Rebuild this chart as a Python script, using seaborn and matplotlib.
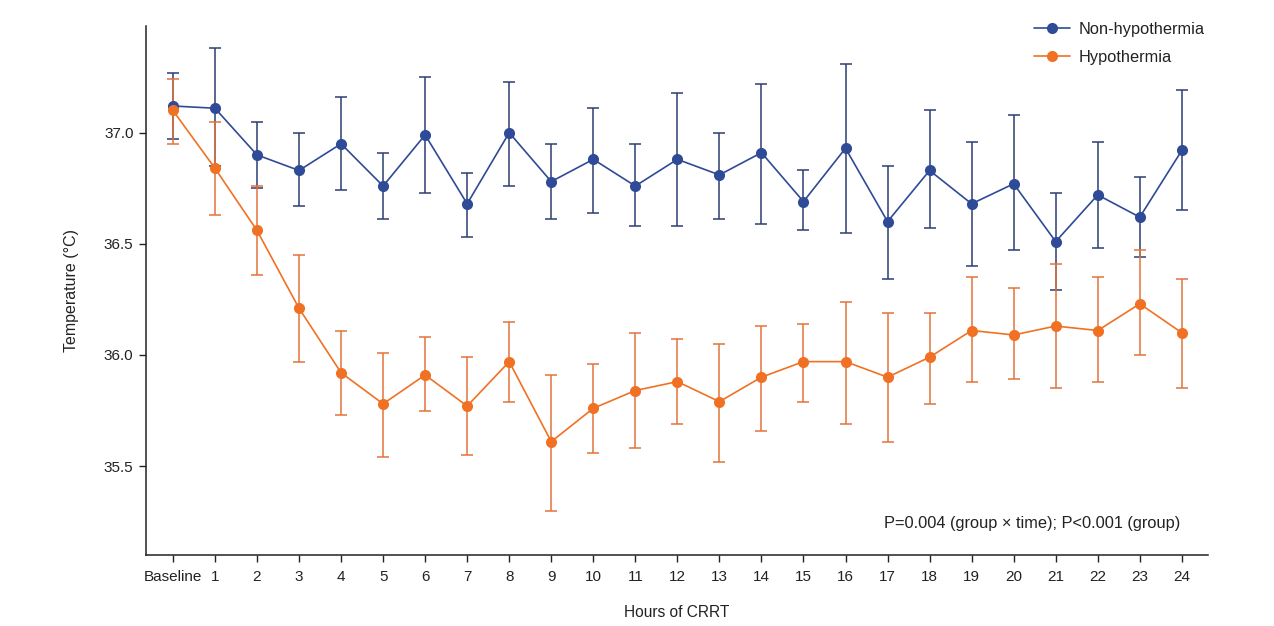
import matplotlib
matplotlib.use("Agg")
import matplotlib.pyplot as plt
import seaborn as sns
import pandas as pd

hours = ["Baseline"] + [str(h) for h in range(1, 25)]

# Non-hypothermia: mean, upper and lower end of error bar
non_mean = [37.12, 37.11, 36.90, 36.83, 36.95, 36.76, 36.99, 36.68, 37.00, 36.78,
            36.88, 36.76, 36.88, 36.81, 36.91, 36.69, 36.93, 36.60, 36.83, 36.68,
            36.77, 36.51, 36.72, 36.62, 36.92]
non_upper = [37.27, 37.38, 37.05, 37.00, 37.16, 36.91, 37.25, 36.82, 37.23, 36.95,
             37.11, 36.95, 37.18, 37.00, 37.22, 36.83, 37.31, 36.85, 37.10, 36.96,
             37.08, 36.73, 36.96, 36.80, 37.19]
non_lower = [36.97, 36.85, 36.75, 36.67, 36.74, 36.61, 36.73, 36.53, 36.76, 36.61,
             36.64, 36.58, 36.58, 36.61, 36.59, 36.56, 36.55, 36.34, 36.57, 36.40,
             36.47, 36.29, 36.48, 36.44, 36.65]

# Hypothermia
hypo_mean = [37.10, 36.84, 36.56, 36.21, 35.92, 35.78, 35.91, 35.77, 35.97, 35.61,
             35.76, 35.84, 35.88, 35.79, 35.90, 35.97, 35.97, 35.90, 35.99, 36.11,
             36.09, 36.13, 36.11, 36.23, 36.10]
hypo_upper = [37.24, 37.05, 36.76, 36.45, 36.11, 36.01, 36.08, 35.99, 36.15, 35.91,
              35.96, 36.10, 36.07, 36.05, 36.13, 36.14, 36.24, 36.19, 36.19, 36.35,
              36.30, 36.41, 36.35, 36.47, 36.34]
hypo_lower = [36.95, 36.63, 36.36, 35.97, 35.73, 35.54, 35.75, 35.55, 35.79, 35.30,
              35.56, 35.58, 35.69, 35.52, 35.66, 35.79, 35.69, 35.61, 35.78, 35.88,
              35.89, 35.85, 35.88, 36.00, 35.85]

groups = ["Non-hypothermia", "Hypothermia"]
line_colors = {"Non-hypothermia": "#2F4A96", "Hypothermia": "#F07124"}
bar_colors = {"Non-hypothermia": "#2C3F72", "Hypothermia": "#E2733A"}

df = pd.concat([
    pd.DataFrame({"pos": range(len(hours)), "temp": non_mean, "upper": non_upper,
                  "lower": non_lower, "group": "Non-hypothermia"}),
    pd.DataFrame({"pos": range(len(hours)), "temp": hypo_mean, "upper": hypo_upper,
                  "lower": hypo_lower, "group": "Hypothermia"}),
])

sns.set_style("ticks")
plt.rcParams["font.family"] = ["Liberation Sans", "DejaVu Sans"]

fig = plt.figure(figsize=(12.74, 6.26), dpi=100)
ax = fig.add_axes([0.1146, 0.1134, 0.8335, 0.8451])

for g in groups:
    d = df[df["group"] == g]
    ax.errorbar(d["pos"], d["temp"], yerr=[d["temp"] - d["lower"], d["upper"] - d["temp"]],
                fmt="none", ecolor=bar_colors[g], elinewidth=1.1, capsize=4.5,
                capthick=1.1, zorder=2)

sns.lineplot(data=df, x="pos", y="temp", hue="group", hue_order=groups,
             palette=line_colors, marker="o", markersize=8, markeredgewidth=0,
             linewidth=1.2, ax=ax, zorder=3)

ax.set_xlim(-0.64, 24.62)
ax.set_ylim(35.1, 37.48)
ax.set_xticks(range(len(hours)))
ax.set_xticklabels(hours, fontsize=11)
ax.set_yticks([35.5, 36.0, 36.5, 37.0])
ax.set_yticklabels(["35.5", "36.0", "36.5", "37.0"], fontsize=11)
ax.tick_params(axis="both", length=5, width=1, color="#222222", labelcolor="#222222")
ax.tick_params(axis="x", pad=6)
ax.tick_params(axis="y", pad=4)
for s in ["top", "right"]:
    ax.spines[s].set_visible(False)
for s in ["left", "bottom"]:
    ax.spines[s].set_linewidth(1.1)
    ax.spines[s].set_color("#222222")

ax.set_xlabel("Hours of CRRT", fontsize=11.2, labelpad=15, color="#222222")
ax.set_ylabel("Temperature (\u00b0C)", fontsize=11.5, labelpad=18, color="#222222")

ax.text(0.9736, 0.0605, "P=0.004 (group \u00d7 time); P<0.001 (group)", transform=ax.transAxes,
        ha="right", va="center", fontsize=11.8, color="#222222")

leg = ax.legend(loc="upper right", bbox_to_anchor=(1.0104, 1.0355), frameon=False,
                fontsize=11.8, handlelength=2.2, handletextpad=0.5, labelspacing=0.8)
for t in leg.get_texts():
    t.set_color("#222222")

fig.savefig("out.png", dpi=100)
